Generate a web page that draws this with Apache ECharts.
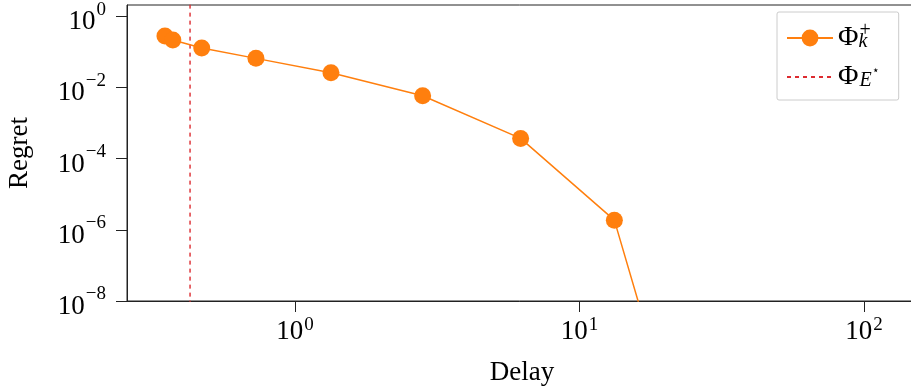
<!DOCTYPE html>
<html>
<head>
<meta charset="utf-8">
<script src="https://cdn.jsdelivr.net/npm/echarts@6/dist/echarts.min.js"></script>
<style>
html,body{margin:0;padding:0;background:#fff;}
#chart{width:911px;height:389px;}
</style>
</head>
<body>
<div id="chart"></div>
<script>
// Data (log-log)
var delays = [0.349, 0.372, 0.470, 0.729, 1.338, 2.81, 6.21, 13.26, 28.0];
var regrets = [0.274, 0.212, 0.126, 0.0648, 0.0255, 0.00577, 3.67e-4, 1.86e-6, 2.7e-15];
var eStarDelay = 0.4276;
var xTickValues = [1, 10, 100];
var yTickValues = [1e-8, 1e-6, 1e-4, 1e-2, 1];
var xRange = [0.2567, 153.6];
var yRange = [1e-8, 2.04];
var seriesNames = ['Φk+', 'ΦE*'];

var FONT = 'Liberation Serif';
function powLabel(v) {
  var e = Math.log10(v);
  var r = Math.round(e);
  if (Math.abs(e - r) > 1e-6) return '';
  var s = r < 0 ? '\u2212' + (-r) : '' + r;
  return '{b|10}{s|' + s + '}';
}
function makeRich(topPad) {
  return {
    b: {fontFamily: FONT, fontSize: 27, color: '#000', lineHeight: 27, padding: [topPad, 0, 0, 0]},
    s: {fontFamily: FONT, fontSize: 19, color: '#000', lineHeight: 19, padding: [0, 0, 13, 1]}
  };
}

var chart = echarts.init(document.getElementById('chart'), null, {renderer: 'canvas'});
var mainData = delays.map(function (d, i) { return [d, regrets[i]]; });
var vData = [[eStarDelay, yRange[0] / 10], [eStarDelay, yRange[1] * 10]];

chart.setOption({
  animation: false,
  backgroundColor: '#fff',
  grid: {left: 127, top: 5, right: -6, bottom: 88, containLabel: false, outerBoundsMode: 'none',
    show: true, borderColor: '#222', borderWidth: 1, backgroundColor: 'transparent'},
  xAxis: {
    type: 'log', logBase: 10, min: xRange[0], max: xRange[1],
    name: 'Delay', nameLocation: 'middle', nameGap: 58,
    nameTextStyle: {fontFamily: FONT, fontSize: 27, color: '#000'},
    axisLine: {show: true, lineStyle: {color: '#222', width: 1}},
    axisTick: {show: true, inside: false, length: 11, lineStyle: {color: '#222', width: 1}, customValues: xTickValues},
    axisLabel: {margin: 17, formatter: powLabel, rich: makeRich(0), customValues: xTickValues},
    minorTick: {show: false}, splitLine: {show: false}
  },
  yAxis: {
    type: 'log', logBase: 10, min: yRange[0], max: yRange[1],
    name: 'Regret', nameLocation: 'middle', nameGap: 94, nameRotate: 90,
    nameTextStyle: {fontFamily: FONT, fontSize: 27, color: '#000'},
    axisLine: {show: true, lineStyle: {color: '#222', width: 1}},
    axisTick: {show: true, inside: false, length: 11, lineStyle: {color: '#222', width: 1}, customValues: yTickValues},
    axisLabel: {margin: 21, formatter: powLabel, rich: makeRich(12), customValues: yTickValues},
    minorTick: {show: false}, splitLine: {show: false}
  },
  legend: {
    orient: 'vertical', left: 777, top: 12,
    padding: [9, 19, 9, 9], itemGap: 8,
    itemWidth: 46, itemHeight: 21,
    backgroundColor: '#fff', borderColor: '#ccc', borderWidth: 1, borderRadius: 2,
    data: [
      {name: seriesNames[0]},
      {name: seriesNames[1], itemStyle: {opacity: 0}}
    ],
    formatter: function (name) {
      if (name === seriesNames[0]) return '{p|Φ}{k|k}{sp|+}';
      return '{p|Φ}{e|E}{st|⋆}';
    },
    textStyle: {
      rich: {
        p: {fontFamily: FONT, fontSize: 28, color: '#000', lineHeight: 28},
        k: {fontFamily: FONT, fontSize: 20, fontStyle: 'italic', color: '#000', lineHeight: 20, width: 1, padding: [8, 0, 0, 0]},
        sp: {fontFamily: FONT, fontSize: 20, color: '#000', lineHeight: 20, padding: [0, 0, 14, 0], width: 15},
        e: {fontFamily: FONT, fontSize: 20, fontStyle: 'italic', color: '#000', lineHeight: 20, padding: [8, 0, 0, 1]},
        st: {fontFamily: FONT, fontSize: 12, color: '#000', lineHeight: 12, padding: [0, 0, 12, 0]}
      }
    }
  },
  series: [
    {
      name: seriesNames[0], type: 'line', data: mainData,
      symbol: 'circle', symbolSize: 17, clip: true,
      itemStyle: {color: '#ff7f0e'},
      lineStyle: {color: '#ff7f0e', width: 1.5},
      z: 3
    },
    {
      name: seriesNames[1], type: 'line', data: vData,
      symbol: 'none', clip: true,
      itemStyle: {color: '#dd2b30'},
      lineStyle: {color: '#dd2b30', width: 1.4, type: [4, 4]},
      z: 2
    }
  ]
});
</script>
</body>
</html>
